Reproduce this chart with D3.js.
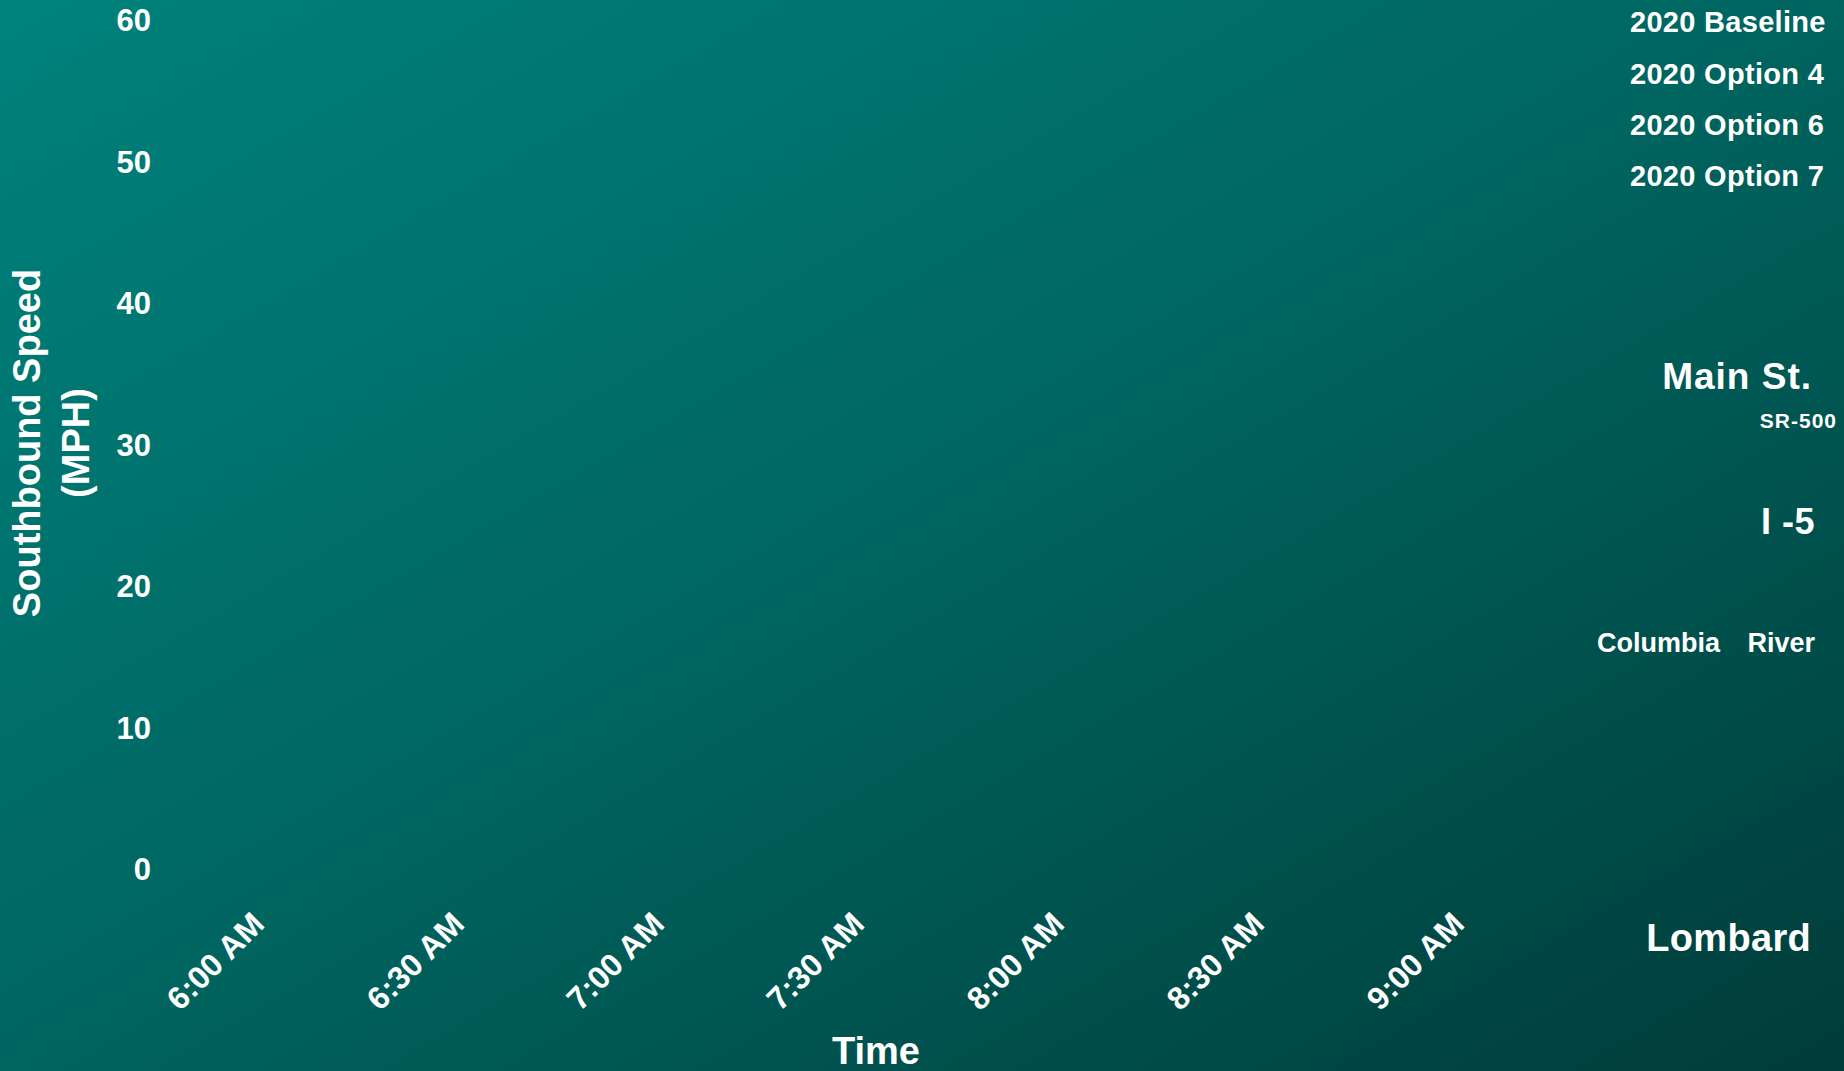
<!DOCTYPE html>
<html>
<head>
<meta charset="utf-8">
<script src="https://cdn.jsdelivr.net/npm/d3@7"></script>
<style>
  body { margin: 0; overflow: hidden; }
  text { font-family: "Liberation Sans", Arial, sans-serif; font-weight: bold; fill: #fff; }
</style>
</head>
<body>
<div id="chart"></div>
<script>
const width = 1844;
const height = 1071;

// speed axis ticks (MPH)
const speedTicks = [0, 10, 20, 30, 40, 50, 60];
// time axis ticks
const timeTicks = ["6:00 AM", "6:30 AM", "7:00 AM", "7:30 AM", "8:00 AM", "8:30 AM", "9:00 AM"];
// legend entries (no lines are drawn in the picture)
const seriesNames = ["2020 Baseline", "2020 Option 4", "2020 Option 6", "2020 Option 7"];
// location labels down the right side
const places = ["Main St.", "SR-500", "I -5", "Columbia", "River", "Lombard"];

const svg = d3.select("#chart")
  .append("svg")
  .attr("width", width)
  .attr("height", height);

const grad = svg.append("defs").append("linearGradient")
  .attr("id", "bg")
  .attr("x1", "0%").attr("y1", "0%")
  .attr("x2", "100%").attr("y2", "100%");
grad.append("stop").attr("offset", "0%").attr("stop-color", "#00827c");
grad.append("stop").attr("offset", "45%").attr("stop-color", "#006863");
grad.append("stop").attr("offset", "100%").attr("stop-color", "#003c39");

svg.append("rect")
  .attr("width", width)
  .attr("height", height)
  .attr("fill", "url(#bg)");

const parseTime = d3.timeParse("%I:%M %p");

const x = d3.scaleTime()
  .domain([parseTime("6:00 AM"), parseTime("9:00 AM")])
  .range([266, 1466]);

const y = d3.scaleLinear()
  .domain([0, 60])
  .range([869, 20]);

// y tick labels
svg.append("g")
  .selectAll("text")
  .data(speedTicks)
  .join("text")
  .attr("x", 151)
  .attr("y", d => y(d))
  .attr("dy", "0.36em")
  .attr("text-anchor", "end")
  .style("font-size", "31px")
  .text(d => d);

// x tick labels, rotated
svg.append("g")
  .selectAll("text")
  .data(timeTicks)
  .join("text")
  .attr("text-anchor", "end")
  .attr("transform", d => `translate(${x(parseTime(d))},926) rotate(-45)`)
  .style("font-size", "32px")
  .text(d => d);

// axis titles
const yTitle = svg.append("text")
  .attr("transform", "translate(40,443) rotate(-90)")
  .attr("text-anchor", "middle")
  .style("font-size", "38px");
yTitle.append("tspan").attr("x", 0).attr("y", 0).text("Southbound Speed");
yTitle.append("tspan").attr("x", 0).attr("y", 49).text("(MPH)");

svg.append("text")
  .attr("x", 876)
  .attr("y", 1064)
  .attr("text-anchor", "middle")
  .style("font-size", "38px")
  .text("Time");

// legend
svg.append("g")
  .selectAll("text")
  .data(seriesNames)
  .join("text")
  .attr("x", 1630)
  .attr("y", (d, i) => 22 + i * 51.3)
  .attr("dy", "0.36em")
  .style("font-size", "29px")
  .style("letter-spacing", "0.3px")
  .text(d => d);

// place labels
const placeStyle = [
  {x: 1812, y: 376, size: 37, anchor: "end", ls: 1},
  {x: 1837, y: 420, size: 21, anchor: "end", ls: 1},
  {x: 1815, y: 521, size: 36, anchor: "end", ls: 0.5},
  {x: 1597, y: 642, size: 27, anchor: "start", ls: 0},
  {x: 1815, y: 642, size: 27, anchor: "end", ls: 0},
  {x: 1811, y: 937, size: 38, anchor: "end", ls: 0.3}
];

svg.append("g")
  .selectAll("text")
  .data(places)
  .join("text")
  .attr("x", (d, i) => placeStyle[i].x)
  .attr("y", (d, i) => placeStyle[i].y)
  .attr("dy", "0.36em")
  .attr("text-anchor", (d, i) => placeStyle[i].anchor)
  .style("font-size", (d, i) => placeStyle[i].size + "px")
  .style("letter-spacing", (d, i) => placeStyle[i].ls + "px")
  .style("white-space", "pre")
  .text(d => d);
</script>
</body>
</html>
